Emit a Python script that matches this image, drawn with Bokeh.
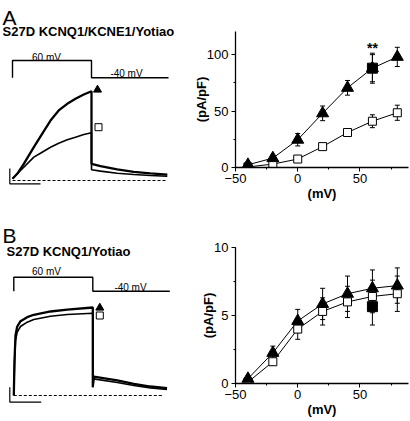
from bokeh.plotting import figure
from bokeh.layouts import row, column
from bokeh.models import (Range1d, Label, SingleIntervalTicker, Whisker,
                          ColumnDataSource, TeeHead)
from bokeh.embed import file_html
from bokeh.resources import INLINE

FONT = "Liberation Sans"

# ---------------- I-V data (pA/pF vs mV) ----------------
voltages = [-40, -20, 0, 20, 40, 60, 80]

a_tri_mean = [2.4, 8.3, 24.6, 48.0, 70.6, 88.0, 98.0]
a_tri_err = [1.5, 2.5, 5.5, 6.5, 6.5, 12.0, 8.5]
a_sq_mean = [0.5, 3.0, 7.5, 18.5, 31.0, 41.0, 48.5]
a_sq_err = [0.5, 2.0, 3.0, 2.0, 3.0, 5.7, 6.7]
a_fill_v = [60]
a_fill_mean = [88.0]
a_fill_err = [13.3]

b_tri_mean = [0.35, 2.25, 4.6, 5.85, 6.6, 7.0, 7.2]
b_tri_err = [0.1, 0.5, 0.85, 1.15, 1.3, 1.35, 1.3]
b_sq_mean = [0.1, 1.6, 4.0, 5.3, 6.0, 6.4, 6.6]
b_sq_err = [0.05, 0.25, 0.75, 1.0, 1.15, 1.2, 1.3]
b_fill_v = [60]
b_fill_mean = [5.65]
b_fill_err = [1.35]

x_ticks_interval = 50
a_y_interval = 50
b_y_interval = 5

# ---------------- current traces (time s, normalised current) ----------------
prot_t = [0, 0, 2, 2, 3.95]
prot_mv = [-40, 60, 60, -40, -40]

a_t_up = [0, 0.119, 0.286, 0.54, 0.75, 0.962, 1.17, 1.385, 1.595, 1.805, 2.0, 2.0, 2.228, 2.65, 3.07, 3.49, 3.92]
a_i_up = [0.019, 0.075, 0.187, 0.374, 0.524, 0.674, 0.787, 0.862, 0.918, 0.966, 1.003, 0.187, 0.161, 0.124, 0.098, 0.079, 0.067]
a_t_lo = [0, 0.203, 0.54, 0.75, 0.962, 1.17, 1.385, 1.595, 1.805, 2.0, 2.0, 2.228, 2.65, 3.07, 3.49, 3.92]
a_i_lo = [0.019, 0.112, 0.262, 0.318, 0.374, 0.419, 0.457, 0.487, 0.517, 0.536, 0.120, 0.105, 0.082, 0.067, 0.056, 0.048]

b_t_up = [0, 0.018, 0.043, 0.086, 0.170, 0.339, 0.506, 0.929, 1.352, 2.0, 2.0, 2.025, 2.618, 3.04, 3.46, 3.88]
b_i_up = [0, 0.393, 0.674, 0.775, 0.835, 0.880, 0.907, 0.944, 0.966, 0.989, 0.093, 0.213, 0.169, 0.131, 0.101, 0.082]
b_t_lo = [0, 0.018, 0.043, 0.086, 0.170, 0.339, 0.506, 0.929, 1.352, 2.0, 2.0, 2.025, 2.618, 3.04, 3.46, 3.88]
b_i_lo = [0, 0.356, 0.618, 0.712, 0.775, 0.824, 0.854, 0.891, 0.910, 0.925, 0.093, 0.187, 0.146, 0.112, 0.086, 0.067]

LEFT_W = 190
RIGHT_W = 220
ROW_A_H = 220
ROW_B_H = 201
PX_PER_S = 39.5
PX_PER_UNIT = 89.0


def trace_panel(h, x0_px, zero_px, mv_hi_px, mv_lo_px, letter, title, texts, marks, bar, dash_end):
    """Left panel: pixel geometry inside the panel is converted to data ranges."""
    tx = lambda x: (x - x0_px) / PX_PER_S
    ay = lambda y: (zero_px - y) / PX_PER_UNIT
    k = (mv_lo_px - mv_hi_px) / 100.0
    my = lambda y: 60 - (y - mv_hi_px) / k
    p = figure(frame_width=LEFT_W, frame_height=h, output_backend="svg", toolbar_location=None,
               x_range=Range1d(tx(0), tx(LEFT_W)), y_range=Range1d(ay(h), ay(0)),
               x_axis_location=None, y_axis_location=None, min_border=0,
               outline_line_color=None)
    p.title.visible = False
    p.extra_y_ranges = {"mv": Range1d(my(h), my(0))}
    p.grid.visible = False
    p.background_fill_color = "white"
    p.border_fill_color = "white"
    p.line(prot_t, prot_mv, y_range_name="mv", line_color="black", line_width=1.4)
    (t_up, i_up), (t_lo, i_lo) = marks["traces"]
    p.line(t_lo, i_lo, line_color="black", line_width=1.6)
    p.line(t_up, i_up, line_color="black", line_width=2.3)
    p.line([0, tx(dash_end)], [0, 0], line_color="black", line_width=1, line_dash="3 2")
    bx, by0, by1, bx1 = bar
    p.line([tx(bx), tx(bx), tx(bx1)], [ay(by0), ay(by1), ay(by1)], line_color="black", line_width=1.2)
    (trx, try_), (sqx, sqy) = marks["key"]
    p.scatter([tx(trx)], [ay(try_)], marker="triangle", size=8, fill_color="black", line_color="black")
    p.scatter([tx(sqx)], [ay(sqy)], marker="square", size=7, fill_color="white", line_color="black", line_width=1)
    p.add_layout(Label(x=tx(letter[1]), y=ay(letter[2]), text=letter[0], text_font=FONT,
                       text_font_size="21px", text_color="black", text_baseline="alphabetic"))
    p.add_layout(Label(x=tx(title[1]), y=ay(title[2]), text=title[0], text_font=FONT,
                       text_font_size="13px", text_font_style="bold", text_color="black",
                       text_baseline="alphabetic"))
    for txt, cx, base in texts:
        p.add_layout(Label(x=tx(cx), y=ay(base), text=txt, text_font=FONT, text_font_size="10px",
                           text_color="black", text_align="center", text_baseline="alphabetic"))
    return p


def iv_panel(h, top, bottom, y_end, y_interval, tri_m, tri_e, sq_m, sq_e, fv, fm, fe):
    p = figure(width=RIGHT_W, height=h, output_backend="svg", toolbar_location=None,
               x_range=Range1d(-50, 89), y_range=Range1d(0, y_end),
               min_border_left=42, min_border_right=2, min_border_top=top,
               min_border_bottom=bottom, outline_line_color=None)
    p.title.visible = False
    p.grid.visible = False
    p.background_fill_color = "white"
    p.border_fill_color = "white"
    p.xaxis.ticker = SingleIntervalTicker(interval=x_ticks_interval, num_minor_ticks=2)
    p.yaxis.ticker = SingleIntervalTicker(interval=y_interval, num_minor_ticks=2)
    for ax in (p.xaxis[0], p.yaxis[0]):
        ax.axis_line_width = 1.3
        ax.axis_line_color = "black"
        ax.major_tick_in = 0
        ax.major_tick_out = 4
        ax.minor_tick_in = 0
        ax.minor_tick_out = 2
        ax.major_tick_line_color = "black"
        ax.minor_tick_line_color = "black"
        ax.major_label_text_font = FONT
        ax.major_label_text_font_size = "13px"
        ax.major_label_text_color = "black"
        ax.axis_label_text_font = FONT
        ax.axis_label_text_font_size = "13px"
        ax.axis_label_text_font_style = "bold"
        ax.axis_label_text_color = "black"
    p.xaxis.axis_label = "(mV)"
    p.yaxis.axis_label = "(pA/pF)"
    p.xaxis.major_label_standoff = 2
    p.xaxis.axis_label_standoff = 0
    p.yaxis.major_label_standoff = 3
    p.yaxis.axis_label_standoff = -5

    p.line(voltages, tri_m, line_color="black", line_width=1)
    p.line(voltages, sq_m, line_color="black", line_width=1)
    for m, e in ((tri_m, tri_e), (sq_m, sq_e), (fm, fe)):
        xs = voltages if len(m) == len(voltages) else fv
        src = ColumnDataSource(dict(x=xs, lo=[a - b for a, b in zip(m, e)], hi=[a + b for a, b in zip(m, e)]))
        p.add_layout(Whisker(source=src, base="x", lower="lo", upper="hi", line_color="black", line_width=1,
                             upper_head=TeeHead(size=5, line_color="black", line_width=1),
                             lower_head=TeeHead(size=5, line_color="black", line_width=1)))
    p.scatter(voltages, sq_m, marker="square", size=8, fill_color="white", line_color="black", line_width=1)
    p.scatter(voltages, tri_m, marker="triangle", size=12, fill_color="black", line_color="black")
    p.scatter(fv, fm, marker="square", size=10, fill_color="black", line_color="black")
    return p


# ---- panel A (positions in panel pixels, origin top-left) ----
pa_left = trace_panel(
    ROW_A_H, x0_px=12, zero_px=180, mv_hi_px=60, mv_lo_px=77.3,
    letter=("A", 2, 16.7), title=("S27D KCNQ1/KCNE1/Yotiao", 2, 30.5),
    texts=[("60 mV", 46, 56.7), ("-40 mV", 126, 73.3)],
    marks={"traces": ((a_t_up, a_i_up), (a_t_lo, a_i_lo)),
           "key": ((97, 89.3), (98, 126.7))},
    bar=(9.3, 168, 183.3, 40), dash_end=167)

pa_right = iv_panel(ROW_A_H, 31, 53, 120.5, a_y_interval,
                    a_tri_mean, a_tri_err, a_sq_mean, a_sq_err, a_fill_v, a_fill_mean, a_fill_err)
pa_right.add_layout(Label(x=60, y=106, text="**", text_font=FONT, text_font_size="14px",
                          text_font_style="bold", text_color="black", text_align="center",
                          text_baseline="middle"))

# ---- panel B ----
oy = 220
pb_left = trace_panel(
    ROW_B_H, x0_px=13.3, zero_px=395 - oy, mv_hi_px=276.7 - oy, mv_lo_px=290.7 - oy,
    letter=("B", 2, 235 - oy), title=("S27D KCNQ1/Yotiao", 6, 251.2 - oy),
    texts=[("60 mV", 46, 270.7 - oy), ("-40 mV", 130, 286.7 - oy)],
    marks={"traces": ((b_t_up, b_i_up), (b_t_lo, b_i_lo)),
           "key": ((99.3, 307.3 - oy), (99.3, 315 - oy))},
    bar=(9.3, 386.7 - oy, 401.7 - oy, 40.7), dash_end=163.3)

pb_right = iv_panel(ROW_B_H, 27, 38, 10, b_y_interval,
                    b_tri_mean, b_tri_err, b_sq_mean, b_sq_err, b_fill_v, b_fill_mean, b_fill_err)

layout = row(column(pa_left, pb_left), column(pa_right, pb_right))

with open("out.html", "w") as f:
    f.write(file_html(layout, INLINE))
